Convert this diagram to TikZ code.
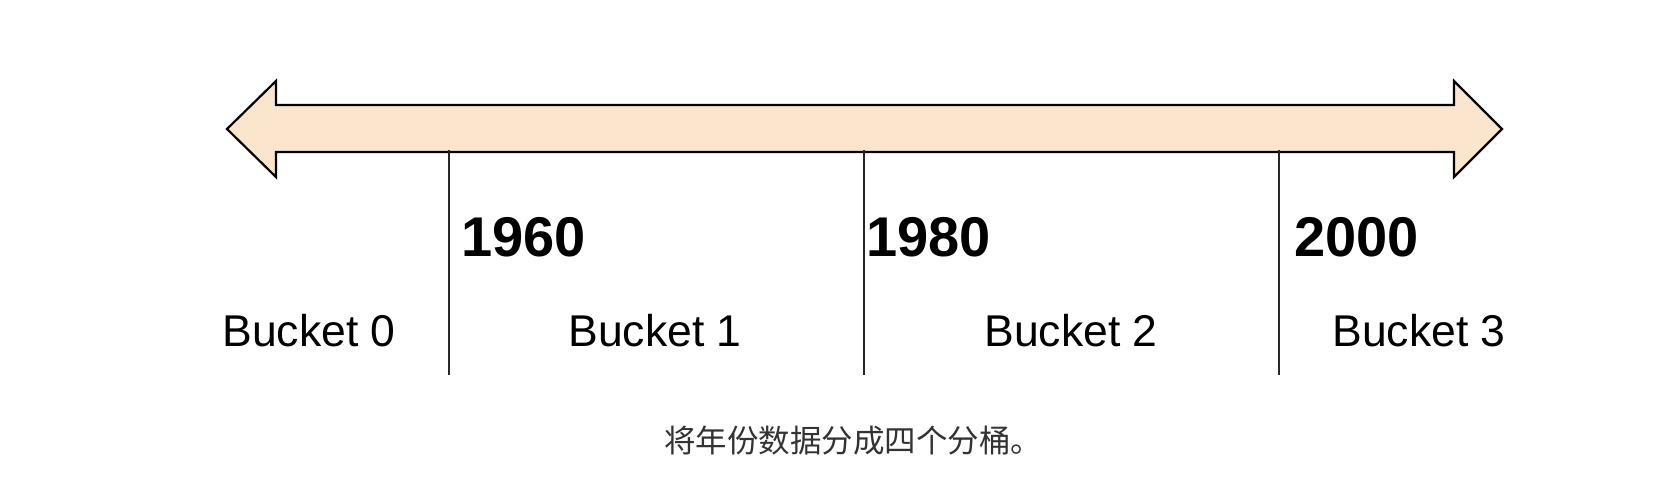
\documentclass[tikz,border=0pt]{standalone}
\usepackage{fontspec}
\setmainfont{Liberation Sans}
\newfontfamily\cjk{Noto Sans CJK SC}
\usepackage{xcolor}
\definecolor{peach}{HTML}{FCE5CD}
\definecolor{capgray}{HTML}{333333}
\tikzset{axis/.style={draw=black,fill=peach,line width=2.2pt,line join=miter},
 tick/.style={draw=black!85,line width=2pt},
 year/.style={anchor=base west,inner sep=0pt,font=\fontsize{56}{62}\selectfont\bfseries},
 bucket/.style={anchor=base,inner sep=0pt,font=\fontsize{44.5}{50}\selectfont},
 }

\begin{document}
\begin{tikzpicture}[x=1pt,y=-1pt]
        \useasboundingbox (0,0) rectangle (1674,484);
        \draw[axis] (227,129) -- (276,81) -- (276,105) -- (1454,105) -- (1454,81)
            -- (1502,129) -- (1454,177) -- (1454,152) -- (276,152) -- (276,177) -- cycle;
        \coordinate (top1) at (449,150);
        \coordinate (bot1) at (449,375);
        \coordinate (top2) at (864,150);
        \coordinate (bot2) at (864,375);
        \coordinate (top3) at (1279,150);
        \coordinate (bot3) at (1279,375);
        \draw[tick] (top1) -- (bot1);
        \draw[tick] (top2) -- (bot2);
        \draw[tick] (top3) -- (bot3);
        \node[year] (y1960) at (461,256) {1960};
        \node[year] (y1980) at (866,256) {1980};
        \node[year] (y2000) at (1294,256) {2000};
        \node[bucket] (b0) at (309,346) {Bucket 0};
        \node[bucket] (b1) at (655,346) {Bucket 1};
        \node[bucket] (b2) at (1071,346) {Bucket 2};
        \node[bucket] (b3) at (1419,346) {Bucket 3};
        \node[anchor=base,inner sep=0pt,color=capgray,font=\cjk\fontsize{31.5}{36}\selectfont] (cap) at (853,452) {将年份数据分成四个分桶。};
    \end{tikzpicture}
\end{document}
